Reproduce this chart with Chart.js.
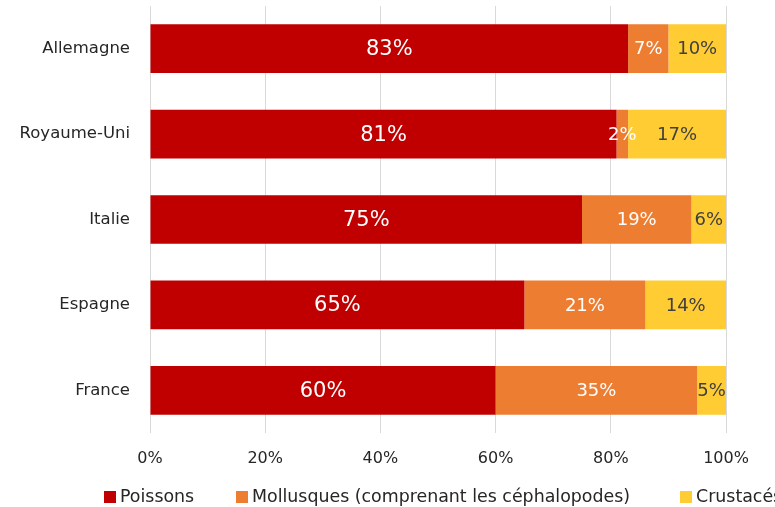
<!DOCTYPE html>
<html>
<head>
<meta charset="utf-8">
<script src="https://cdn.jsdelivr.net/npm/chart.js@4/dist/chart.umd.min.js"></script>
<style>
    html, body { margin: 0; padding: 0; background: #fff; overflow: hidden; }
    #wrap { position: relative; width: 775px; height: 507px; }
    #legend {
        position: absolute; left: 0; top: 486px; white-space: nowrap;
        font-family: 'DejaVu Sans', sans-serif; font-size: 17.4px; color: #262626;
    }
    #legend span.item { position: absolute; top: 0; }
    #legend i { display: inline-block; width: 12px; height: 12px; margin-right: 4px; vertical-align: -1px; }
</style>
</head>
<body>
<div id="wrap">
    <canvas id="chart" width="775" height="507"></canvas>
    <div id="legend"></div>
</div>
<script>
const countries = ['Allemagne', 'Royaume-Uni', 'Italie', 'Espagne', 'France'];
const poissons = [83, 81, 75, 65, 60];
const mollusques = [7, 2, 19, 21, 35];
const crustaces = [10, 17, 6, 14, 5];
const xTicks = [0, 20, 40, 60, 80, 100];

const seriesNames = ['Poissons', 'Mollusques (comprenant les céphalopodes)', 'Crustacés'];
const seriesColors = ['#C00000', '#ED7D31', '#FFCC33'];
const labelColors = ['#ffffff', '#ffffff', '#404040'];
const labelSizes = [21, 18, 18];

// draws the % value in the middle of every bar piece
const barLabels = {
    id: 'barLabels',
    afterDatasetsDraw(chart) {
        const ctx = chart.ctx;
        chart.data.datasets.forEach((ds, i) => {
            const meta = chart.getDatasetMeta(i);
            meta.data.forEach((bar, j) => {
                const p = bar.getProps(['x', 'y', 'base'], true);
                ctx.save();
                ctx.fillStyle = labelColors[i];
                ctx.font = labelSizes[i] + 'px "DejaVu Sans", sans-serif';
                ctx.textAlign = 'center';
                ctx.textBaseline = 'middle';
                ctx.fillText(ds.data[j] + '%', (p.x + p.base) / 2, p.y + 1);
                ctx.restore();
            });
        });
    }
};

const datasets = [poissons, mollusques, crustaces].map((values, i) => ({
    label: seriesNames[i],
    data: values,
    backgroundColor: seriesColors[i],
    borderWidth: 0,
    barPercentage: 0.57,
    categoryPercentage: 1
}));

new Chart(document.getElementById('chart'), {
    type: 'bar',
    data: { labels: countries, datasets: datasets },
    plugins: [barLabels],
    options: {
        indexAxis: 'y',
        responsive: false,
        animation: false,
        layout: { padding: { top: 6, right: 49, left: 0, bottom: 0 } },
        plugins: {
            legend: { display: false },
            tooltip: { enabled: false }
        },
        scales: {
            x: {
                stacked: true,
                min: 0,
                max: 100,
                afterBuildTicks: (scale) => { scale.ticks = xTicks.map(v => ({ value: v })); },
                afterFit: (scale) => {
                    scale.height = 74;
                    scale.paddingLeft = 0;
                    scale.paddingRight = 0;
                },
                border: { display: false },
                grid: { color: '#D9D9D9', drawTicks: false },
                ticks: {
                    padding: 16,
                    color: '#262626',
                    font: { family: 'DejaVu Sans', size: 16 },
                    callback: (v) => v + '%'
                }
            },
            y: {
                stacked: true,
                afterFit: (scale) => {
                    scale.width = 150;
                    scale.paddingTop = 0;
                    scale.paddingBottom = 0;
                },
                border: { display: false },
                grid: { display: false, drawTicks: false },
                ticks: {
                    padding: 20,
                    color: '#262626',
                    font: { family: 'DejaVu Sans', size: 16.5 }
                }
            }
        }
    }
});

// legend below the plot, laid out like the original (runs off the right edge)
const legendX = [104, 236, 680];
const legend = document.getElementById('legend');
seriesNames.forEach((name, i) => {
    const item = document.createElement('span');
    item.className = 'item';
    item.style.left = legendX[i] + 'px';
    item.innerHTML = '<i style="background:' + seriesColors[i] + '"></i>' + name;
    legend.appendChild(item);
});
</script>
</body>
</html>
